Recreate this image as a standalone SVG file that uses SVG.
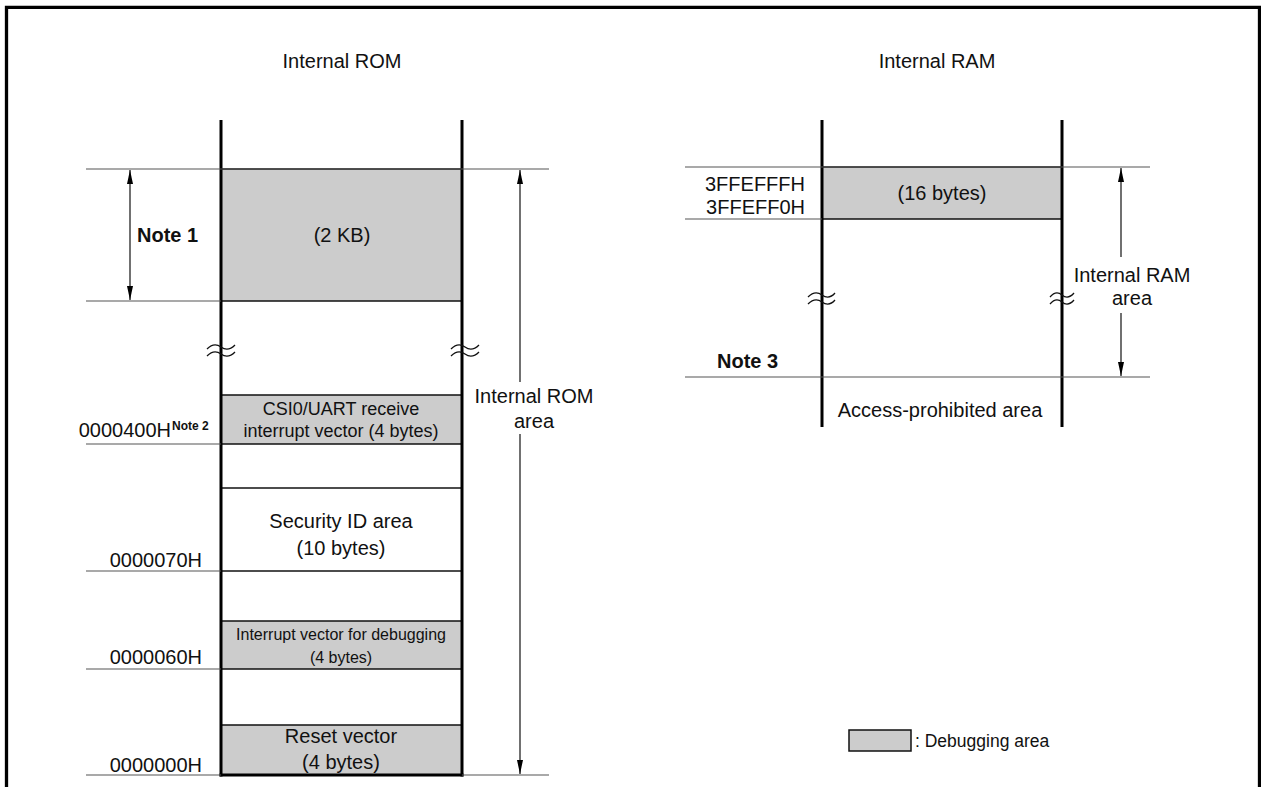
<svg xmlns="http://www.w3.org/2000/svg" width="1261" height="787" viewBox="0 0 1261 787">
<defs>
<style>
text{font-family:"Liberation Sans",Arial,sans-serif;fill:#111;}
.t{font-size:20px;}
.c{text-anchor:middle;}
.e{text-anchor:end;}
.b{font-weight:bold;}
.col{stroke:#000;stroke-width:3;fill:none;}
.box{fill:#cccccc;stroke:#111;stroke-width:1.5;}
.sep{stroke:#111;stroke-width:1.5;}
.ext{stroke:#555;stroke-width:1.2;}
.dim{stroke:#111;stroke-width:1.2;fill:none;}
.brk{stroke:#111;stroke-width:1.3;fill:none;}
.gap{fill:#fff;stroke:none;}
</style>
<marker id="arr" viewBox="0 0 14 6" refX="14" refY="3" markerWidth="14" markerHeight="6" markerUnits="userSpaceOnUse" orient="auto">
<path d="M0,0 L14,3 L0,6 z" fill="#000"/>
</marker>
</defs>
<rect width="1261" height="787" fill="#fff"/>
<path d="M6.5,787 V7.3 H1259.5 V787" fill="none" stroke="#000" stroke-width="3.3"/>

<g id="titles">
<text class="t c" x="342" y="68">Internal ROM</text>
<text class="t c" x="937" y="68">Internal RAM</text>
</g>

<g id="rom">
<rect class="box" x="221" y="169" width="241" height="132"/>
<rect class="box" x="221" y="395" width="241" height="49"/>
<rect class="box" x="221" y="621" width="241" height="48"/>
<rect class="box" x="221" y="725" width="241" height="50"/>
<line class="sep" x1="221" y1="488" x2="462" y2="488"/>
<line class="sep" x1="221" y1="571" x2="462" y2="571"/>
<line class="col" x1="221" y1="120" x2="221" y2="776.5"/>
<line class="col" x1="462" y1="120" x2="462" y2="776.5"/>
<line class="col" x1="219.5" y1="775" x2="463.5" y2="775"/>
<path class="brk" d="M207,349 Q214,342 221,347 T235,345"/>
<path class="brk" d="M207,356 Q214,349 221,354 T235,352"/>
<path class="brk" d="M451,349 Q458,342 465,347 T479,345"/>
<path class="brk" d="M451,356 Q458,349 465,354 T479,352"/>
<text class="t c" x="342" y="242">(2 KB)</text>
<text class="c" x="341" y="415" font-size="18">CSI0/UART receive</text>
<text class="c" x="341" y="437" font-size="18">interrupt vector (4 bytes)</text>
<text class="t c" x="341" y="528">Security ID area</text>
<text class="t c" x="341" y="555">(10 bytes)</text>
<text class="c" x="341" y="640" font-size="16">Interrupt vector for debugging</text>
<text class="c" x="341" y="663" font-size="16">(4 bytes)</text>
<text class="t c" x="341" y="743">Reset vector</text>
<text class="t c" x="341" y="769">(4 bytes)</text>
</g>

<g id="rom-addresses">
<line class="ext" x1="86" y1="169" x2="549" y2="169"/>
<line class="ext" x1="86" y1="301" x2="221" y2="301"/>
<line class="ext" x1="86" y1="444" x2="221" y2="444"/>
<line class="ext" x1="86" y1="571" x2="221" y2="571"/>
<line class="ext" x1="86" y1="669" x2="221" y2="669"/>
<line class="ext" x1="86" y1="775" x2="221" y2="775"/>
<line class="ext" x1="462" y1="775" x2="549" y2="775"/>
<text class="t b" x="137" y="242">Note 1</text>
<text class="t e" x="171" y="437">0000400H</text>
<text class="b" x="172" y="430" font-size="12">Note 2</text>
<text class="t e" x="202" y="567">0000070H</text>
<text class="t e" x="202" y="664">0000060H</text>
<text class="t e" x="202" y="772">0000000H</text>
<text class="t c" x="534" y="403">Internal ROM</text>
<text class="t c" x="534" y="428">area</text>
</g>

<g id="ram">
<rect class="box" x="822" y="167" width="240" height="52"/>
<line class="col" x1="822" y1="120" x2="822" y2="427"/>
<line class="col" x1="1062" y1="120" x2="1062" y2="427"/>
<path class="brk" d="M808,297 Q815,290 822,295 T835,293"/>
<path class="brk" d="M808,304 Q815,297 822,302 T835,300"/>
<path class="brk" d="M1050,297 Q1056,290 1062,295 T1074,293"/>
<path class="brk" d="M1050,304 Q1056,297 1062,302 T1074,300"/>
<line class="ext" x1="685" y1="167" x2="1150" y2="167"/>
<line class="ext" x1="685" y1="219" x2="822" y2="219"/>
<line class="ext" x1="685" y1="377" x2="1150" y2="377"/>
<text class="t c" x="942" y="200">(16 bytes)</text>
<text class="t e" x="805" y="191">3FFEFFFH</text>
<text class="t e" x="805" y="214">3FFEFF0H</text>
<text class="t b" x="717" y="368">Note 3</text>
<text class="t c" x="940" y="417">Access-prohibited area</text>
<text class="t c" x="1132" y="282">Internal RAM</text>
<text class="t c" x="1132" y="305">area</text>
</g>

<g id="connectors">
<line class="dim" x1="130" y1="235" x2="130" y2="170" marker-end="url(#arr)"/>
<line class="dim" x1="130" y1="235" x2="130" y2="300" marker-end="url(#arr)"/>
<line class="dim" x1="520" y1="382" x2="520" y2="170" marker-end="url(#arr)"/>
<line class="dim" x1="520" y1="434" x2="520" y2="774" marker-end="url(#arr)"/>
<line class="dim" x1="1121" y1="257" x2="1121" y2="168" marker-end="url(#arr)"/>
<line class="dim" x1="1121" y1="313" x2="1121" y2="376" marker-end="url(#arr)"/>
</g>

<g id="legend">
<rect class="box" x="849" y="730" width="62" height="21"/>
<text x="915" y="747" font-size="17.5">: Debugging area</text>
</g>
</svg>
